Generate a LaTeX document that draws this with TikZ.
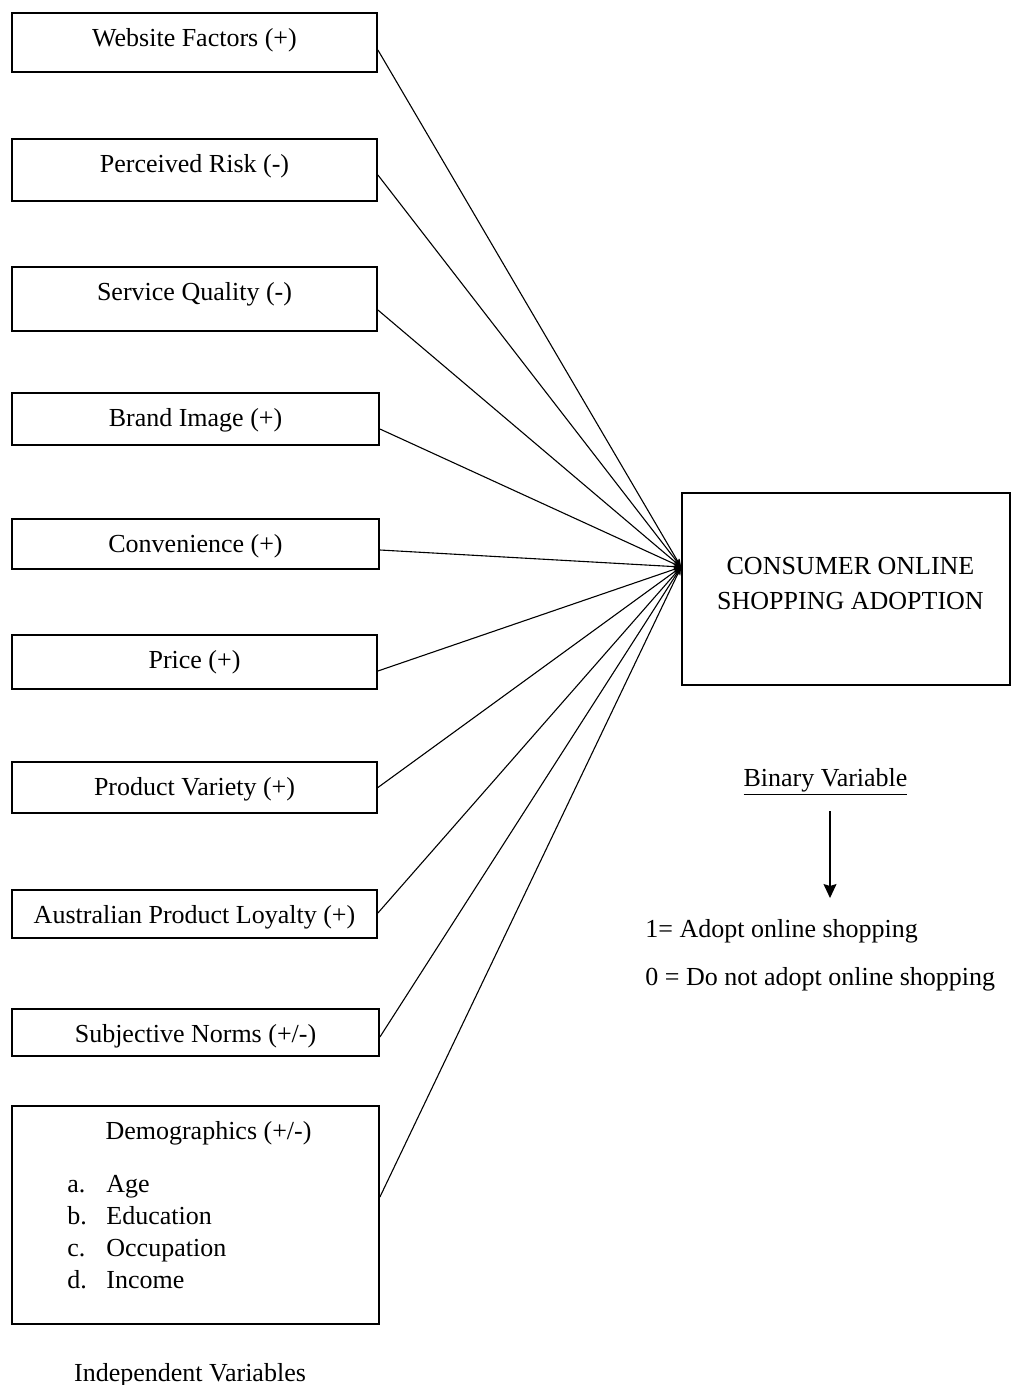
\documentclass[tikz,border=0pt]{standalone}
\usepackage{fontspec}
\setmainfont{Liberation Serif}
\usetikzlibrary{arrows.meta}
\tikzset{
	varbox/.style={draw, line width=0.9pt, inner sep=0pt},
	toptext/.style={anchor=base, yshift=-17pt, inner sep=0pt},
	plain/.style={inner sep=0pt},
	link/.style={line width=0.55pt, -{Stealth[length=4pt,width=3pt]}},
	downarrow/.style={line width=0.6pt, -{Stealth[length=7pt,width=6.5pt,inset=1pt]}},
}
\begin{document}
\begin{tikzpicture}[x=0.5pt, y=-0.5pt, font=\fontsize{13}{16}\selectfont]
	\useasboundingbox (0,0) rectangle (1011,1385);
	% independent variables
	\node[varbox, minimum width=182.5pt, minimum height=29.5pt, label={[toptext]north:Website Factors (+)}] (web) at (194.5,42.5) {};
	\node[varbox, minimum width=182.5pt, minimum height=31pt, label={[toptext]north:Perceived Risk (-)}] (risk) at (194.5,170) {};
	\node[varbox, minimum width=182.5pt, minimum height=32pt, label={[toptext]north:Service Quality (-)}] (service) at (194.5,299) {};
	\node[varbox, minimum width=183.5pt, minimum height=26pt, label={[toptext]north:Brand Image (+)}] (brand) at (195.5,419) {};
	\node[varbox, minimum width=183.5pt, minimum height=25pt, label={[toptext]north:Convenience (+)}] (conv) at (195.5,544) {};
	\node[varbox, minimum width=182.5pt, minimum height=27pt, label={[toptext]north:Price (+)}] (price) at (194.5,662) {};
	\node[varbox, minimum width=182.5pt, minimum height=25.5pt, label={[toptext]north:Product Variety (+)}] (variety) at (194.5,787.5) {};
	\node[varbox, minimum width=182.5pt, minimum height=24pt, label={[toptext]north:Australian Product Loyalty (+)}] (loyalty) at (194.5,914) {};
	\node[varbox, minimum width=183.5pt, minimum height=23.5pt, label={[toptext]north:Subjective Norms (+/-)}] (norms) at (195.5,1032.5) {};
	\node[varbox, minimum width=183.5pt, minimum height=109pt, label={[toptext, xshift=6.5pt]north:Demographics (+/-)}] (demo) at (195.5,1215) {};
	\foreach \k/\what [count=\i] in {a/Age, b/Education, c/Occupation, d/Income} {
		\node[plain, anchor=base west] (demo-\k) at (67,{1192+32*(\i-1)}) {\k.};
		\node[plain, anchor=base west] (demo-\k-txt) at (106,{1192+32*(\i-1)}) {\what};
	}
	\node[plain, anchor=base] (indep) at (190,1381) {Independent Variables};

	% dependent variable
	\node[varbox, minimum width=164pt, minimum height=96pt, label={[plain, anchor=north, xshift=2.25pt, yshift=-32.5pt, align=center, font=\fontsize{13}{17.2}\selectfont]north:CONSUMER ONLINE\\SHOPPING ADOPTION}] (adopt) at (846,589) {};
	\coordinate (tip) at ([yshift=11pt]adopt.west);

	\draw[link] ([yshift=-3.75pt]web.east) -- (tip);
	\draw[link] ([yshift=-2.5pt]risk.east) -- (tip);
	\draw[link] ([yshift=-5.5pt]service.east) -- (tip);
	\draw[link] ([yshift=-5pt]brand.east) -- (tip);
	\draw[link] ([yshift=-3pt]conv.east) -- (tip);
	\draw[link] ([yshift=-4.5pt]price.east) -- (tip);
	\draw[link] (variety.east) -- (tip);
	\draw[link] ([yshift=0.5pt]loyalty.east) -- (tip);
	\draw[link] ([yshift=-2.25pt]norms.east) -- (tip);
	\draw[link] ([yshift=9pt]demo.east) -- (tip);

	% coding of the binary variable
	\node[plain, anchor=base] (binary) at (825.5,786) {\underline{Binary Variable}};
	\node[plain, anchor=base west] (one) at (645,937) {1= Adopt online shopping};
	\node[plain, anchor=base west] (zero) at (645,985) {0 = Do not adopt online shopping};
	\draw[downarrow] ([shift={(2.25pt,-7.5pt)}]binary.south) -- ([shift={(2.25pt,-51pt)}]binary.south);
\end{tikzpicture}
\end{document}
